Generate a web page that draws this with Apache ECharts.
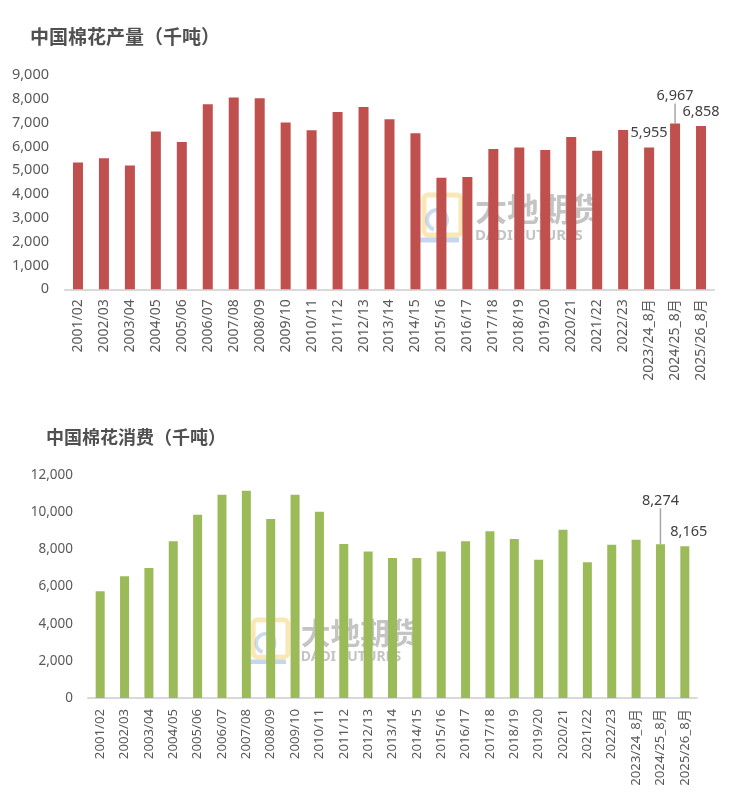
<!DOCTYPE html>
<html>
<head>
<meta charset="utf-8">
<script src="https://cdn.jsdelivr.net/npm/echarts@6/dist/echarts.min.js"></script>
<style>
html,body{margin:0;padding:0;background:#fff;}
#chart{width:734px;height:805px;}
</style>
</head>
<body>
<div id="chart"></div>
<script>
const categories = ['2001/02','2002/03','2003/04','2004/05','2005/06','2006/07','2007/08','2008/09','2009/10','2010/11','2011/12','2012/13','2013/14','2014/15','2015/16','2016/17','2017/18','2018/19','2019/20','2020/21','2021/22','2022/23','2023/24_8月','2024/25_8月','2025/26_8月'];
const production = [5330,5500,5200,6630,6190,7770,8060,8020,7000,6680,7450,7660,7140,6550,4680,4720,5890,5960,5850,6400,5820,6690,5955,6967,6858];
const consumption = [5740,6550,7000,8430,9860,10940,11150,9630,10940,10020,8290,7890,7530,7530,7890,8430,8970,8550,7440,9060,7300,8250,8520,8274,8165];
const prodLabeled = [22,23,24];
const consLabeled = [23,24];
const leaderIdx = 23;
const titleTop = '中国棉花产量（千吨）';
const titleBottom = '中国棉花消费（千吨）';

const FONT = 'Noto Sans, Noto Sans CJK SC, sans-serif';
const fmt = v => v.toLocaleString('en-US');

function watermark(x, y, s) {
  return {
    type: 'group', x: x, y: y, scaleX: s, scaleY: s, z: -10, silent: true,
    children: [
      {type:'rect', shape:{x:9,y:2,width:37,height:40,r:4}, style:{fill:'none', stroke:'#F2CC5A', lineWidth:5, opacity:0.45}},
      {type:'polyline', shape:{points:[[3,7],[3,47],[44,47]]}, style:{fill:'none', stroke:'#7FA7D6', lineWidth:5, opacity:0.45}},
      {type:'arc', shape:{cx:22,cy:27,r:10,startAngle:Math.PI*0.6,endAngle:Math.PI*2.3}, style:{fill:'none', stroke:'#7FA7D6', lineWidth:4, opacity:0.4}},
      {type:'text', x:60, y:0, style:{text:'大地期货', font:'bold 32px "Noto Sans CJK SC"', fill:'#8a8a8a', opacity:0.5}},
      {type:'text', x:60, y:35, style:{text:'DADI FUTURES', font:'bold 15px "Noto Sans"', fill:'#8a8a8a', opacity:0.5}}
    ]
  };
}

function makeData(values, labeled) {
  return values.map((v, i) => {
    const item = {value: v};
    if (labeled.indexOf(i) >= 0) {
      item.label = {show: true, position: 'top', distance: 7, formatter: p => fmt(p.value),
        fontSize: 14.5, color: '#404040', fontFamily: FONT};
      item.labelLine = {show: i === leaderIdx, lineStyle: {color: '#A6A6A6', width: 1.5}};
    }
    return item;
  });
}

const chart = echarts.init(document.getElementById('chart'), null, {renderer: 'canvas'});
const option = {
  animation: false,
  backgroundColor: '#fff',
  title: [
    {text: titleTop, left: 25, top: 22, textStyle: {fontSize: 19, fontWeight: 'bold', color: '#505050', fontFamily: 'Noto Sans CJK SC'}},
    {text: titleBottom, left: 41, top: 423, textStyle: {fontSize: 18, fontWeight: 'bold', color: '#505050', fontFamily: 'Noto Sans CJK SC'}}
  ],
  graphic: [watermark(415, 193, 1), watermark(245, 618, 0.93)],
  grid: [
    {left: 65, right: 20, top: 75, height: 214.3},
    {left: 88, right: 37, top: 475, height: 223}
  ],
  xAxis: [
    {type: 'category', gridIndex: 0, data: categories,
     axisLine: {lineStyle: {color: '#D9D9D9', width: 2}}, axisTick: {show: false},
     axisLabel: {rotate: 90, interval: 0, margin: 10, fontSize: 14, color: '#595959', fontFamily: FONT}},
    {type: 'category', gridIndex: 1, data: categories,
     axisLine: {lineStyle: {color: '#D9D9D9', width: 2}}, axisTick: {show: false},
     axisLabel: {rotate: 90, interval: 0, margin: 11, fontSize: 13.2, color: '#595959', fontFamily: FONT}}
  ],
  yAxis: [
    {type: 'value', gridIndex: 0, min: 0, max: 9000, interval: 1000,
     splitLine: {show: false}, axisLine: {show: false}, axisTick: {show: false},
     axisLabel: {margin: 16, fontSize: 14.5, color: '#595959', fontFamily: FONT, formatter: v => fmt(v)}},
    {type: 'value', gridIndex: 1, min: 0, max: 12000, interval: 2000,
     splitLine: {show: false}, axisLine: {show: false}, axisTick: {show: false},
     axisLabel: {margin: 15, fontSize: 13.5, color: '#595959', fontFamily: FONT, formatter: v => fmt(v)}}
  ],
  series: [
    {type: 'bar', xAxisIndex: 0, yAxisIndex: 0, barWidth: 10, z: 5,
     itemStyle: {color: '#C0504D'},
     data: makeData(production, prodLabeled),
     labelLayout: function (p) { if (p.dataIndex === 23) return {dy: -13}; return {}; }
    },
    {type: 'bar', xAxisIndex: 1, yAxisIndex: 1, barWidth: 9, z: 5,
     itemStyle: {color: '#9BBB59'},
     data: makeData(consumption, consLabeled),
     labelLayout: function (p) { if (p.dataIndex === 23) return {dy: -29}; if (p.dataIndex === 24) return {dx: 4}; return {}; }
    }
  ]
};
chart.setOption(option);
</script>
</body>
</html>
